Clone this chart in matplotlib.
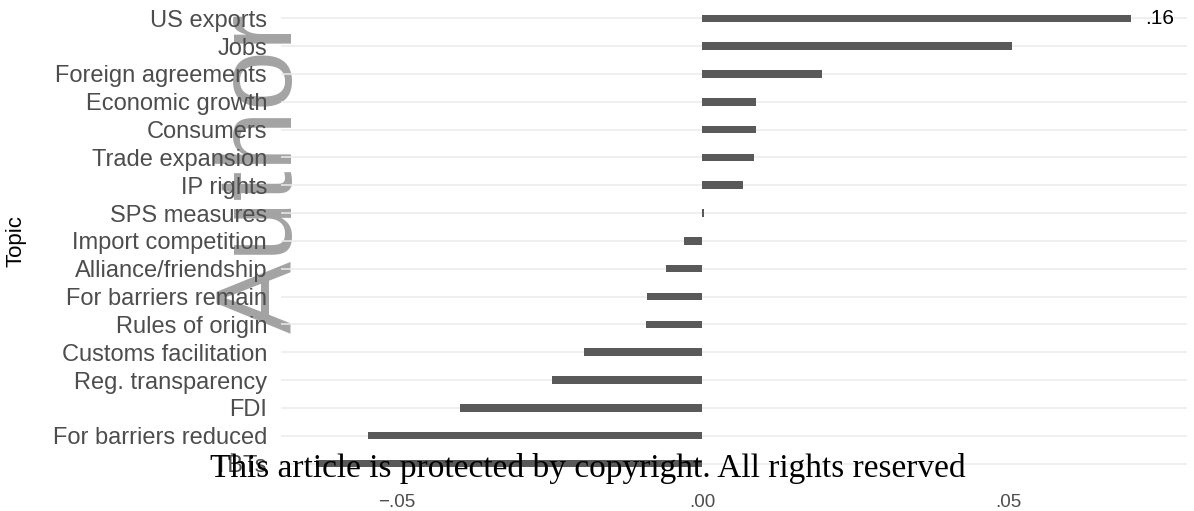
import numpy as np
from matplotlib import pyplot as plt

# данные
topics = ['US exports', 'Jobs', 'Foreign agreements', 'Economic growth', 'Consumers',
          'Trade expansion', 'IP rights', 'SPS measures', 'Import competition',
          'Alliance/friendship', 'For barriers remain', 'Rules of origin',
          'Customs facilitation', 'Reg. transparency', 'FDI', 'For barriers reduced', 'TBTs']
effects = [0.16, 0.0506, 0.0195, 0.0087, 0.0087, 0.0084, 0.0067, 0.0003, -0.003,
           -0.0059, -0.009, -0.0093, -0.0193, -0.0246, -0.0397, -0.0546, -0.0631]
x_ticks = [-0.05, 0.0, 0.05]
x_tick_labels = ['\u2212.05', '.00', '.05']
cap = 0.07  # бары длиннее обрезаются, значение подписывается

plt.rcParams['font.family'] = ['Liberation Sans', 'DejaVu Sans']

W, H = 1194, 511
fig = plt.figure(figsize=(W / 100, H / 100), dpi=100, facecolor='white')
ax = fig.add_axes([281 / W, 1 - 480.2 / H, 906 / W, 478.6 / H])
ax.patch.set_alpha(0)

y = np.arange(len(topics))
shown = np.minimum(effects, cap)
ax.barh(y, shown, height=0.27, color='#595959', zorder=2)
for yi, v in zip(y, effects):
    if v > cap:
        ax.text(cap + 0.0024, yi, ('%.2f' % v).lstrip('0'), va='center', ha='left',
                fontsize=15, color='black')

ax.set_yticks(y)
ax.set_yticklabels(topics)
ax.set_xticks(x_ticks)
ax.set_xticklabels(x_tick_labels)
ax.set_ylim(len(topics) - 0.4, -0.6)
ax.set_xlim(-0.0689, 0.0792)

# оформление в стиле theme_minimal
ax.grid(axis='y', color='#EBEBEB', linewidth=1.1, zorder=0)
ax.grid(axis='x', visible=False)
for s in ax.spines.values():
    s.set_visible(False)
ax.tick_params(axis='y', length=0, pad=10, labelsize=17, labelcolor='#4D4D4D')
ax.tick_params(axis='x', length=0, pad=10, labelsize=13.5, labelcolor='#4D4D4D')
ax.set_ylabel('Topic', fontsize=16, color='black')
ax.yaxis.set_label_coords(-0.281, 0.5)

# водяной знак и подпись
fig.text(292 / W, 1 - 333 / H, 'Author Manuscript', rotation=90, rotation_mode='anchor',
         ha='left', va='baseline', fontsize=78, color='#A3A3A3', zorder=-1)
fig.text(588 / W, 1 - 477 / H, 'This article is protected by copyright. All rights reserved',
         ha='center', va='baseline', fontsize=24, color='black',
         family=['Liberation Serif', 'DejaVu Serif'], zorder=6)

fig.savefig('out.png', dpi=100, facecolor='white')
